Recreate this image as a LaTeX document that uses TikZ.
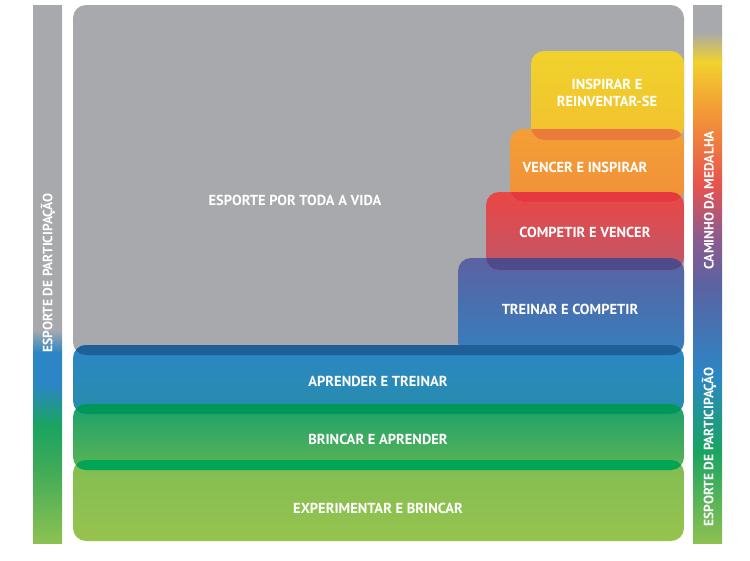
\documentclass[tikz,border=0pt]{standalone}
\usepackage{fontspec}
\setmainfont{PT Sans}
\usepackage{tikz}
\usetikzlibrary{positioning}
\usepackage{xcolor}
\definecolor{fog}{HTML}{A7A9AC}
\definecolor{sun}{HTML}{F1D22C}
\definecolor{amber}{HTML}{F39A36}
\definecolor{coral}{HTML}{E7534F}
\definecolor{plum}{HTML}{8E5C8C}
\definecolor{indigo}{HTML}{5B62A2}
\definecolor{ocean}{HTML}{2C86C5}
\definecolor{leaf}{HTML}{19A461}
\definecolor{leafb}{HTML}{3EAA58}
\definecolor{lime}{HTML}{8DC152}
% left bar: participation only
\pgfdeclareverticalshading{partbar}{100bp}{color(0bp)=(lime); color(25bp)=(lime); color(32bp)=(leafb); color(36bp)=(leaf); color(39.7bp)=(ocean); color(42.7bp)=(ocean); color(44.8bp)=(fog); color(75bp)=(fog); color(100bp)=(fog)}
% right bar: medal path on top of participation
\pgfdeclareverticalshading{medalbar}{100bp}{color(0bp)=(lime); color(25bp)=(lime); color(33.6bp)=(leaf); color(40.6bp)=(ocean); color(49bp)=(indigo); color(53.6bp)=(plum); color(58.3bp)=(coral); color(65.2bp)=(amber); color(69.7bp)=(sun); color(72.5bp)=(fog); color(75bp)=(fog); color(100bp)=(fog)}
\newcommand{\lblfont}{\fontsize{14.5}{17}\selectfont\bfseries}
\newcommand{\sidefont}{\fontsize{13.5}{15}\selectfont\bfseries}
\tikzset{
  stage/.style={rounded corners=13pt},
  band/.style={rounded corners=13pt},
  lbl/.style={text=white,font=\lblfont,align=center,inner sep=0pt},
  sidelbl/.style={text=white,font=\sidefont,rotate=90,inner sep=0pt}
}

\begin{document}
\begin{tikzpicture}[x=1pt,y=-1pt]
\useasboundingbox (0,0) rectangle (750,560);
% side bars
\shade[shading=partbar] (33,5) rectangle (62,543);
\shade[shading=medalbar] (693,5) rectangle (722,543);
% background stage
\fill[stage,fog] (73,5) rectangle (684,355);
% stages, bottom to top
\shade[stage,top color=lime!85!leafb,bottom color=lime!90!sun] (73,460) rectangle (684,541);
\shade[stage,top color=leaf!90!ocean,bottom color=leafb!60!lime] (73,404) rectangle (684,470);
\shade[stage,top color=ocean,bottom color=ocean!75!leaf] (73,345) rectangle (684,414);
\shade[stage,top color=indigo,bottom color=ocean!80!indigo] (458,258) rectangle (684,355);
\shade[stage,top color=coral!85!red,bottom color=coral!55!plum] (486,192) rectangle (684,270);
\shade[stage,top color=amber!90!sun,bottom color=amber!85!coral] (510,129) rectangle (684,202);
\shade[stage,top color=sun,bottom color=sun!70!amber] (531,51) rectangle (684,140);
% darker overlaps
\begin{scope}
\clip[band] (531,51) rectangle (684,140);
\fill[band,color={rgb,255:red,236;green,122;blue,59}] (510,129) rectangle (684,202);
\end{scope}
\begin{scope}
\clip[band] (510,129) rectangle (684,202);
\fill[band,color={rgb,255:red,229;green,57;blue,63}] (486,192) rectangle (684,270);
\end{scope}
\begin{scope}
\clip[band] (486,192) rectangle (684,270);
\fill[band,color={rgb,255:red,79;green,75;blue,139}] (458,258) rectangle (684,355);
\end{scope}
\begin{scope}
\clip[band] (73,5) rectangle (684,355);
\fill[band,color={rgb,255:red,31;green,95;blue,152}] (73,345) rectangle (684,414);
\end{scope}
\begin{scope}
\clip[band] (73,345) rectangle (684,414);
\fill[band,color={rgb,255:red,0;green,152;blue,90}] (73,404) rectangle (684,470);
\end{scope}
\begin{scope}
\clip[band] (73,404) rectangle (684,470);
\fill[band,color={rgb,255:red,0;green,165;blue,86}] (73,460) rectangle (684,541);
\end{scope}
% labels
\node[lbl] (vida) at (295,200) {ESPORTE POR TODA A VIDA};
\node[lbl] (insp) at (607,93) {INSPIRAR E\\REINVENTAR-SE};
\node[lbl] (venc) at (585,167) {VENCER E INSPIRAR};
\node[lbl] (comp) at (585,232) {COMPETIR E VENCER};
\node[lbl] (trei) at (570,309) {TREINAR E COMPETIR};
\node[lbl] (apre) at (378,381) {APRENDER E TREINAR};
\node[lbl] (brin) at (378,439) {BRINCAR E APRENDER};
\node[lbl] (expe) at (378,508) {EXPERIMENTAR E BRINCAR};
\node[sidelbl] (lpart) at (48,273) {ESPORTE DE PARTICIPAÇÃO};
\node[sidelbl] (rmed) at (709,200) {CAMINHO DA MEDALHA};
\node[sidelbl] (rpart) at (709,447) {ESPORTE DE PARTICIPAÇÃO};
\end{tikzpicture}
\end{document}
